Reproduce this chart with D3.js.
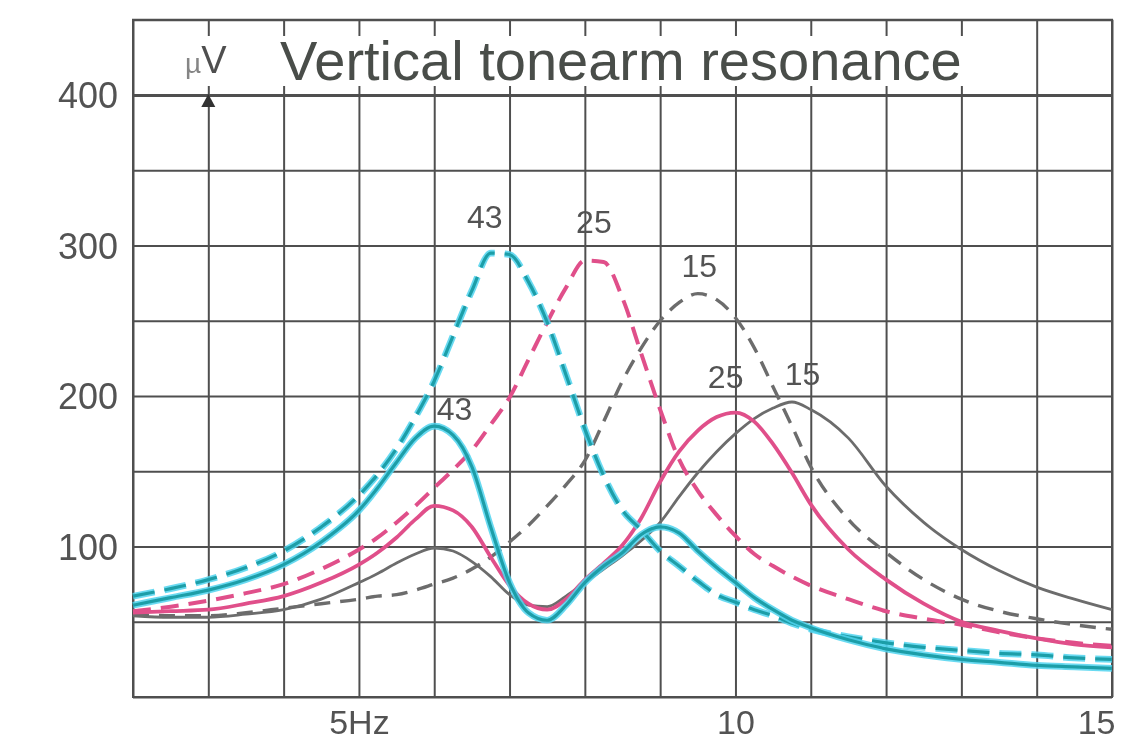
<!DOCTYPE html>
<html>
<head>
<meta charset="utf-8">
<title>Vertical tonearm resonance</title>
<script src="https://cdn.jsdelivr.net/npm/d3@7"></script>
<style>
  html, body { margin: 0; padding: 0; background: #fff; }
  svg { display: block; }
  text { font-family: "Liberation Sans", Arial, Helvetica, sans-serif; }
</style>
</head>
<body>
<svg id="chart" width="1126" height="745"></svg>
<script>
// frequency samples (Hz), shared by all curves
const freq = [2, 2.5, 3, 3.5, 4, 4.5, 5, 5.25, 5.5, 5.75, 6, 6.25, 6.5, 6.75, 7, 7.25, 7.5, 7.75, 8,
  8.25, 8.5, 8.75, 9, 9.25, 9.5, 9.75, 10, 10.25, 10.5, 10.75, 11, 11.5, 12, 12.5, 13, 13.5, 14, 14.5, 15];

// output in microvolts
const cyanDashed = [67, 72, 78, 86, 97, 113, 134, 148, 165, 186, 210, 240, 270, 295, 294, 276, 249, 214, 178,
  147, 124, 111, 97, 87, 77, 68, 63, 58, 54, 49, 45, 40, 36, 33, 31, 29, 28, 26, 25];
const cyanSolid = [61, 66, 71, 78, 88, 103, 124, 139, 156, 172, 180, 174, 153, 113, 76, 56, 51, 61, 76,
  87, 96, 108, 113, 109, 97, 86, 76, 66, 58, 51, 46, 38, 32, 28, 25, 23, 21, 20, 19];
const pinkDashed = [57, 60, 64, 69, 75, 85, 98, 106, 116, 127, 139, 151, 164, 181, 199, 224, 249, 272, 290,
  289, 265, 228, 191, 158, 137, 121, 107, 95, 87, 80, 74, 65, 57, 52, 48, 43, 39, 36, 34];
const pinkSolid = [56, 57, 58, 62, 67, 76, 88, 96, 106, 118, 127, 124, 113, 93, 74, 62, 58, 65, 78,
  89, 101, 119, 143, 163, 177, 186, 189, 183, 168, 149, 128, 98, 78, 62, 50, 44, 39, 35, 33];
const grayDashed = [55, 54, 54, 56, 59, 62, 65, 67, 68, 71, 75, 79, 85, 93, 103, 114, 127, 141, 157,
  183, 210, 232, 250, 262, 268, 264, 252, 232, 206, 180, 153, 118, 96, 78, 65, 57, 52, 48, 45];
const graySolid = [54, 53, 53, 55, 58, 65, 76, 82, 89, 95, 99, 97, 90, 80, 68, 61, 60, 67, 76,
  85, 94, 104, 116, 133, 149, 163, 175, 185, 192, 196, 191, 172, 140, 116, 98, 84, 73, 65, 58];

// curve labels (arm mass) and where they sit [Hz, uV]
const labelText = ['43', '25', '15', '43', '25', '15'];
const labelPos = [[6.67, 319], [8.12, 316], [9.52, 287], [6.27, 192], [9.87, 213], [10.89, 215]];

const yTicks = [100, 200, 300, 400];
const xTickLabels = {5: '5Hz', 10: '10', 15: '15'};

const svg = d3.select('#chart');

const x = d3.scaleLinear().domain([2, 15]).range([133, 1112]);
const y = d3.scaleLinear().domain([0, 450]).range([697, 19.75]);

const ink = '#505050';

svg.append('defs').append('filter')
  .attr('id', 'soft')
  .append('feGaussianBlur')
  .attr('stdDeviation', 0.6);

const g = svg.append('g').attr('filter', 'url(#soft)');

// vertical grid + x labels
const xAxis = g.append('g')
  .attr('transform', 'translate(0,' + y(0) + ')')
  .call(d3.axisBottom(x)
    .tickValues(d3.range(2, 16))
    .tickSize(-(y(0) - y(450)))
    .tickPadding(13)
    .tickFormat(d => xTickLabels[d] || ''));

// horizontal grid + y labels
const yAxis = g.append('g')
  .attr('transform', 'translate(' + x(2) + ',0)')
  .call(d3.axisLeft(y)
    .tickValues(d3.range(0, 451, 50))
    .tickSize(-(x(15) - x(2)))
    .tickPadding(15)
    .tickFormat(d => yTicks.includes(d) ? d : ''));

[xAxis, yAxis].forEach(a => {
  a.select('.domain').remove();
  a.selectAll('.tick line')
    .attr('stroke', ink)
    .attr('stroke-width', 2);
  a.selectAll('.tick text')
    .attr('fill', '#525252')
    .attr('font-size', '36px');
});
xAxis.selectAll('.tick text').attr('font-size', '34px');
yAxis.selectAll('.tick text').attr('dy', '0.36em');
yAxis.selectAll('.tick line')
  .filter(d => d === 400)
  .attr('stroke-width', 3);
xAxis.selectAll('.tick text')
  .filter(d => d === 15)
  .attr('text-anchor', 'end')
  .attr('dx', 3);

// outer frame
g.append('rect')
  .attr('x', x(2))
  .attr('y', y(450))
  .attr('width', x(15) - x(2))
  .attr('height', y(0) - y(450))
  .attr('fill', 'none')
  .attr('stroke', ink)
  .attr('stroke-width', 2);

// title band: the text knocks out the grid lines behind it
g.append('rect')
  .attr('x', 168)
  .attr('y', 36)
  .attr('width', 832)
  .attr('height', 50)
  .attr('fill', '#fff');

g.append('text')
  .attr('x', 280)
  .attr('y', 80)
  .attr('fill', '#4a4e4a')
  .attr('font-size', '56px')
  .text('Vertical tonearm resonance');

const unit = g.append('text')
  .attr('x', 185)
  .attr('y', 73)
  .attr('fill', '#505050');
unit.append('tspan').attr('font-size', '28px').attr('fill', '#858585').text('µ');
unit.append('tspan').attr('font-size', '38px').text('V');

// arrow head on the 3 Hz line
const ax = x(3), ay = y(400);
g.append('path')
  .attr('d', d3.line()([[ax, ay - 1], [ax - 7, ay + 12], [ax + 7, ay + 12]]) + 'Z')
  .attr('fill', '#333');

// curves
const line = d3.line()
  .x((d, i) => x(freq[i]))
  .y(d => y(d))
  .curve(d3.curveMonotoneX);

const curves = [
  {values: grayDashed, color: '#6c6c6c', width: 3.4, dash: '16 10'},
  {values: graySolid, color: '#6c6c6c', width: 2.8, dash: null},
  {values: pinkDashed, color: '#e0508a', width: 4, dash: '18 10'},
  {values: pinkSolid, color: '#e0508a', width: 3.8, dash: null},
  {values: cyanDashed, color: '#1f9ea8', halo: '#4fd4ee', width: 3.2, dash: '22 10'},
  {values: cyanSolid, color: '#1f9ea8', halo: '#4fd4ee', width: 3.2, dash: null}
];

curves.forEach(c => {
  if (c.halo) {
    g.append('path')
      .attr('d', line(c.values))
      .attr('fill', 'none')
      .attr('stroke', c.halo)
      .attr('stroke-width', c.width + 3.5)
      .attr('stroke-dasharray', c.dash)
      .attr('opacity', 0.85);
  }
  g.append('path')
    .attr('d', line(c.values))
    .attr('fill', 'none')
    .attr('stroke', c.color)
    .attr('stroke-width', c.width)
    .attr('stroke-dasharray', c.dash)
    .attr('stroke-linecap', 'butt');
});

// curve labels
g.selectAll('.lbl')
  .data(labelText)
  .enter()
  .append('text')
  .attr('class', 'lbl')
  .attr('x', (d, i) => x(labelPos[i][0]))
  .attr('y', (d, i) => y(labelPos[i][1]))
  .attr('dy', '0.36em')
  .attr('text-anchor', 'middle')
  .attr('fill', '#525252')
  .attr('font-size', '32px')
  .text(d => d);
</script>
</body>
</html>
